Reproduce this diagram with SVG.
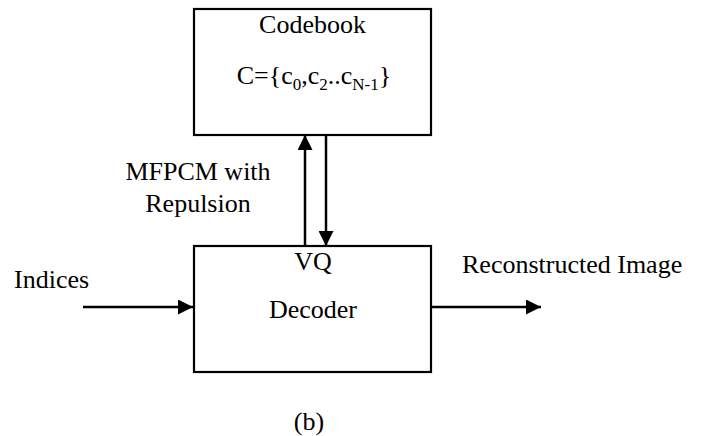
<svg xmlns="http://www.w3.org/2000/svg" width="702" height="436" viewBox="0 0 702 436">
<style>
.box{fill:#fff;stroke:#000;stroke-width:2.2}
.t{font-family:"Liberation Serif","Times New Roman",serif;font-size:26px;fill:#000}
.c{text-anchor:middle}
.sub{font-size:17px}
.ln{stroke:#000;stroke-width:2.5;fill:none}
</style>
<defs>
<marker id="ah" viewBox="0 0 15 15" refX="15" refY="7.5" markerWidth="15" markerHeight="15" markerUnits="userSpaceOnUse" orient="auto">
<path d="M0,0 L15,7.5 L0,15 Z" fill="#000"/>
</marker>
</defs>
<rect width="702" height="436" fill="#fff"/>
<g id="codebook">
<rect class="box" x="194" y="9" width="237" height="126"/>
<text class="t c" x="312.5" y="33">Codebook</text>
<text class="t c" x="314" y="84">C={c<tspan class="sub" dy="6">0</tspan><tspan dy="-6">,c</tspan><tspan class="sub" dy="6">2</tspan><tspan dy="-6">..c</tspan><tspan class="sub" dy="6">N-1</tspan><tspan dy="-6">}</tspan></text>
</g>
<g id="decoder">
<rect class="box" x="194" y="246" width="237" height="126"/>
<text class="t c" x="313" y="270">VQ</text>
<text class="t c" x="313" y="318">Decoder</text>
</g>
<g id="connectors">
<line class="ln" x1="305" y1="246" x2="305" y2="135" marker-end="url(#ah)"/>
<line class="ln" x1="326" y1="135" x2="326" y2="246" marker-end="url(#ah)"/>
<line class="ln" x1="83" y1="307" x2="193" y2="307" marker-end="url(#ah)"/>
<line class="ln" x1="431" y1="307" x2="541" y2="307" marker-end="url(#ah)"/>
</g>
<g id="labels">
<text class="t c" x="198" y="180">MFPCM with</text>
<text class="t c" x="198" y="212">Repulsion</text>
<text class="t" x="14" y="288">Indices</text>
<text class="t" x="462" y="273">Reconstructed Image</text>
<text class="t c" x="309" y="430">(b)</text>
</g>
</svg>
